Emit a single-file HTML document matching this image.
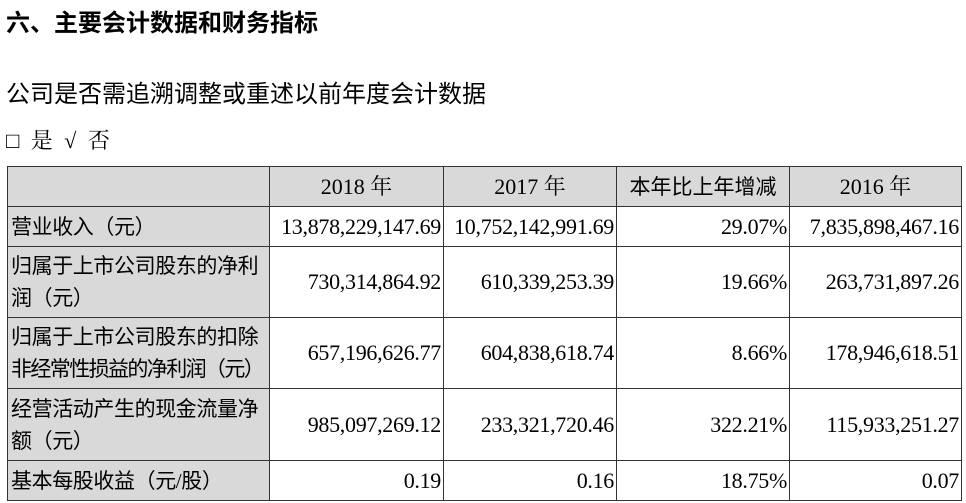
<!DOCTYPE html>
<html><head><meta charset="utf-8"><style>
body{margin:0;width:966px;height:503px;background:#fff;position:relative;overflow:hidden;font-family:"Liberation Serif","Noto Serif CJK SC",serif;color:#000}
.t{position:absolute;white-space:nowrap}
table{position:absolute;left:7px;top:166px;border-collapse:collapse;font-size:22px;table-layout:fixed}
td{border:1.5px solid #333;padding:0 2px;line-height:32px;overflow:hidden;white-space:nowrap}
td.l{background:#d9d9d9;text-align:left;font-family:"Liberation Serif","Noto Sans CJK SC",sans-serif;font-size:21px;padding-left:3px;letter-spacing:-0.4px}
td.n{text-align:right;letter-spacing:-0.3px}
tr.h td{background:#d9d9d9;text-align:center}
</style></head><body>
<div class="t" style="left:6px;top:3px;font-size:24px;font-weight:bold;font-family:'Liberation Sans','Noto Sans CJK SC',sans-serif">六、主要会计数据和财务指标</div>
<div class="t" style="left:6px;top:74px;font-size:24px;font-family:'Liberation Sans','Noto Sans CJK SC',sans-serif">公司是否需追溯调整或重述以前年度会计数据</div>
<div class="t" style="left:6px;top:124px;font-size:22px;font-family:'Liberation Serif','Noto Serif CJK SC',serif;word-spacing:6px">□ 是 √ 否</div>
<table>
<colgroup><col style="width:262px"><col style="width:174px"><col style="width:173px"><col style="width:173px"><col style="width:172px"></colgroup>
<tr class="h" style="height:40px"><td></td><td>2018 年</td><td>2017 年</td><td style="font-family:'Liberation Serif','Noto Sans CJK SC',sans-serif;font-size:21px">本年比上年增减</td><td>2016 年</td></tr>
<tr style="height:40px"><td class="l">营业收入（元）</td><td class="n">13,878,229,147.69</td><td class="n">10,752,142,991.69</td><td class="n">29.07%</td><td class="n">7,835,898,467.16</td></tr>
<tr style="height:71px"><td class="l">归属于上市公司股东的净利<br>润（元）</td><td class="n">730,314,864.92</td><td class="n">610,339,253.39</td><td class="n">19.66%</td><td class="n">263,731,897.26</td></tr>
<tr style="height:71px"><td class="l">归属于上市公司股东的扣除<br><span style="letter-spacing:-1.6px">非经常性损益的净利润（元）</span></td><td class="n">657,196,626.77</td><td class="n">604,838,618.74</td><td class="n">8.66%</td><td class="n">178,946,618.51</td></tr>
<tr style="height:72px"><td class="l">经营活动产生的现金流量净<br>额（元）</td><td class="n">985,097,269.12</td><td class="n">233,321,720.46</td><td class="n">322.21%</td><td class="n">115,933,251.27</td></tr>
<tr style="height:40px"><td class="l">基本每股收益（元/股）</td><td class="n">0.19</td><td class="n">0.16</td><td class="n">18.75%</td><td class="n">0.07</td></tr>
</table>
</body></html>
